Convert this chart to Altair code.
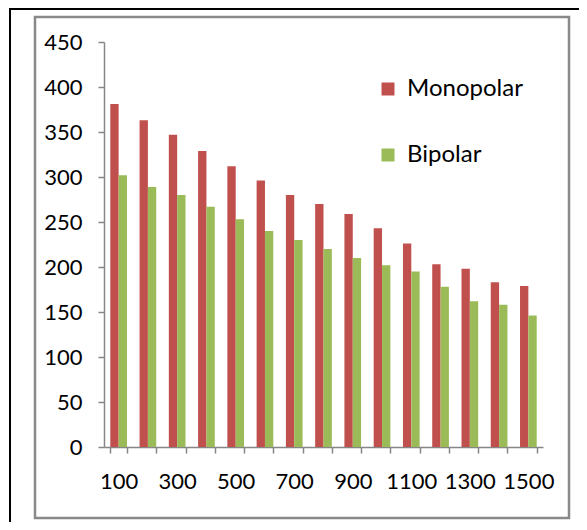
import altair as alt
import pandas as pd

categories = [100, 200, 300, 400, 500, 600, 700, 800, 900, 1000, 1100, 1200, 1300, 1400, 1500]
monopolar = [381, 363, 347, 329, 312, 296, 280, 270, 259, 243, 226, 203, 198, 183, 179]
bipolar = [302, 289, 280, 267, 253, 240, 230, 220, 210, 202, 195, 178, 162, 158, 146]
series = ["Monopolar", "Bipolar"]
colors = ["#C0504D", "#9BBB59"]
y_ticks = [0, 50, 100, 150, 200, 250, 300, 350, 400, 450]

rows = []
for c, m, b in zip(categories, monopolar, bipolar):
    rows.append({"cat": str(c), "series": series[0], "value": m})
    rows.append({"cat": str(c), "series": series[1], "value": b})
df = pd.DataFrame(rows)

FONT = "Lato"
AX = "#868686"

bars = alt.Chart(df).mark_bar().encode(
    x=alt.X("cat:N", sort=[str(c) for c in categories], title=None,
            scale=alt.Scale(paddingInner=0.43, paddingOuter=0.215),
            axis=alt.Axis(labelAngle=0, tickBand="extent", labelOverlap=False,
                          labelExpr="(toNumber(datum.value)/100) % 2 == 1 ? datum.label : ''",
                          labelFont=FONT, labelFontSize=22, labelColor="#000000",
                          domainColor=AX, tickColor=AX, domainWidth=1.5, tickWidth=1.5,
                          tickSize=6, labelPadding=18, grid=False)),
    xOffset=alt.XOffset("series:N", sort=series),
    y=alt.Y("value:Q", title=None,
            scale=alt.Scale(domain=[0, 450], nice=False),
            axis=alt.Axis(values=y_ticks, labelFont=FONT, labelFontSize=22, labelColor="#000000",
                          domainColor=AX, tickColor=AX, domainWidth=1.5, tickWidth=1.5,
                          tickSize=6, labelPadding=16, grid=False)),
    color=alt.Color("series:N", sort=series, scale=alt.Scale(domain=series, range=colors),
                    legend=alt.Legend(title=None, orient="none", legendX=272, legendY=35,
                                      symbolType="square", symbolSize=169, symbolStrokeWidth=0,
                                      labelFont=FONT, labelFontSize=24, labelColor="#000000",
                                      labelOffset=7, rowPadding=42)),
)

one = pd.DataFrame({"a": [0]})
frame = alt.Chart(one).mark_rect(fill=None, stroke="#898989", strokeWidth=2.5).encode(
    x=alt.value(-69), x2=alt.value(465), y=alt.value(-25), y2=alt.value(476)
)
black_left = alt.Chart(one).mark_rule(color="#000000", strokeWidth=2).encode(
    x=alt.value(-94), y=alt.value(-33), y2=alt.value(490)
)
black_top = alt.Chart(one).mark_rule(color="#000000", strokeWidth=2).encode(
    x=alt.value(-95), x2=alt.value(480), y=alt.value(-33)
)

chart = alt.layer(frame, black_left, black_top, bars).properties(
    width=439, height=405,
    autosize=alt.AutoSizeParams(type="none"),
    padding={"left": 96, "top": 34, "right": 36, "bottom": 75},
    background="#FFFFFF",
).configure_view(stroke=None, strokeWidth=0)

chart.save("out.html", embed_options={"renderer": "svg", "actions": False})
